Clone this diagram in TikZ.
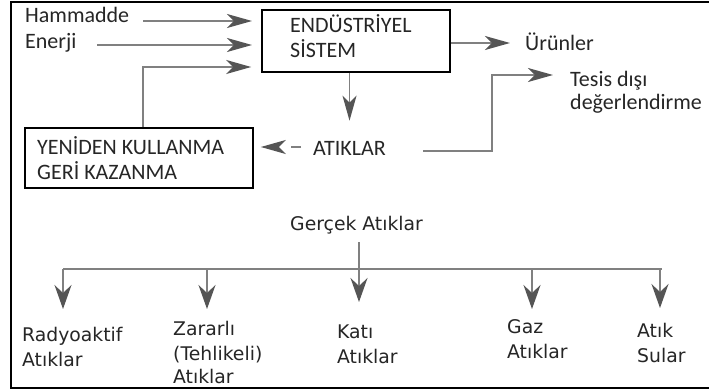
\documentclass[tikz,border=0pt]{standalone}
\usepackage{fontspec}
\newfontfamily\calfont{Carlito}
\newfontfamily\dvfont{DejaVu Sans}
\usetikzlibrary{arrows.meta,calc}
\definecolor{txtc}{HTML}{262626}
\definecolor{linec}{HTML}{808080}
\definecolor{headc}{HTML}{555555}
\tikzset{
  toptxt/.style={font=\calfont\fontsize{22}{24}\selectfont, text=txtc, inner sep=0pt, anchor=base west},
  bottxt/.style={font=\dvfont\fontsize{18.8}{22}\selectfont, text=txtc, inner sep=0pt, anchor=base west},
  boxst/.style={draw=black, line width=1.6pt, fill=white, inner sep=0pt},
  conn/.style={draw=linec, line width=1.8pt},
  arr/.style={conn, -{Stealth[length=25pt,width=14pt,inset=7pt,color=headc,fill=headc]}},
  arrb/.style={conn, -{Stealth[length=24pt,width=17pt,inset=8pt,color=headc,fill=headc]}}
}
\begin{document}
\begin{tikzpicture}[x=1pt,y=-1pt]
\useasboundingbox (0,0) rectangle (709,390);
\clip (0,0) rectangle (709,390);
\fill[white] (0,0) rectangle (709,390);
% frame
\draw[line width=2pt, black] (709,2) -- (11,2) -- (11,388) -- (709,388);

% boxes
\node[boxst, minimum width=188pt, minimum height=62pt] (sys) at (356,41) {};
\node[boxst, minimum width=228pt, minimum height=60pt] (yen) at (139,158) {};

% top texts
\node[toptxt] (ham) at (25,23) {Hammadde};
\node[toptxt] (ene) at (25,49) {Enerji};
\node[toptxt] (sys1) at (290,33) {ENDÜSTRİYEL};
\node[toptxt] (sys2) at (290,58) {SİSTEM};
\node[toptxt] (urun) at (525,51) {Ürünler};
\node[toptxt] (tes1) at (570,87) {Tesis dışı};
\node[toptxt] (tes2) at (570,110) {değerlendirme};
\node[toptxt] (atik) at (313,156) {ATIKLAR};
\node[toptxt] (yen1) at (37,155) {YENİDEN KULLANMA};
\node[toptxt] (yen2) at (37,179) {GERİ KAZANMA};

% inputs
\coordinate (hamS) at (143,21);
\coordinate (eneS) at (97,45);
\draw[arr] (hamS) -- (hamS -| 252,0);
\draw[arr] (eneS) -- (eneS -| 252,0);
\draw[arr] ($(yen.north west)+(119,0)$) |- ($(sys.west)+(-10,26)$);
% outputs
\draw[arr] ($(sys.east)+(0,2)$) -- ($(urun.base west)+(-15,-8)$);
\draw[arr] (sys.south -| atik.north) -- ($(atik.north)+(0,-21)$);
\draw[arr, dash pattern=on 10pt off 60pt] ($(atik.base west)+(-12,-9)$) -- ($(yen.east)+(7,-11)$);
\draw[arr] ($(atik.base west)+(110,-5)$) -| ($(tes1.base west)+(-78,-12)$) -- ($(tes1.base west)+(-17,-12)$);

% bottom tree
\node[bottxt] (ger) at (290,230) {Gerçek Atıklar};
\node[bottxt] (rad1) at (22,341) {Radyoaktif};
\node[bottxt] (rad2) at (22,366) {Atıklar};
\node[bottxt] (zar1) at (173,335) {Zararlı};
\node[bottxt] (zar2) at (173,360) {(Tehlikeli)};
\node[bottxt] (zar3) at (173,383) {Atıklar};
\node[bottxt] (kat1) at (337,338) {Katı};
\node[bottxt] (kat2) at (337,363) {Atıklar};
\node[bottxt] (gaz1) at (507,333) {Gaz};
\node[bottxt] (gaz2) at (507,358) {Atıklar};
\node[bottxt] (sul1) at (637,337) {Atık};
\node[bottxt] (sul2) at (637,362) {Sular};

\coordinate (bL) at (63,269);
\coordinate (bR) at (662,269);
\coordinate (bZ) at (207,269);
\coordinate (bG) at (532,269);
\coordinate (bS) at (660,269);
\coordinate (gT) at (359,242);
\draw[conn] (bL) -- (bR);
\draw[arrb] (gT) -- ++(0,60);
\draw[arrb] (bL) -- ++(0,40);
\draw[arrb] (bZ) -- ++(0,40);
\draw[arrb] (bG) -- ++(0,40);
\draw[arrb] (bS) -- ++(0,39);
\end{tikzpicture}
\end{document}
